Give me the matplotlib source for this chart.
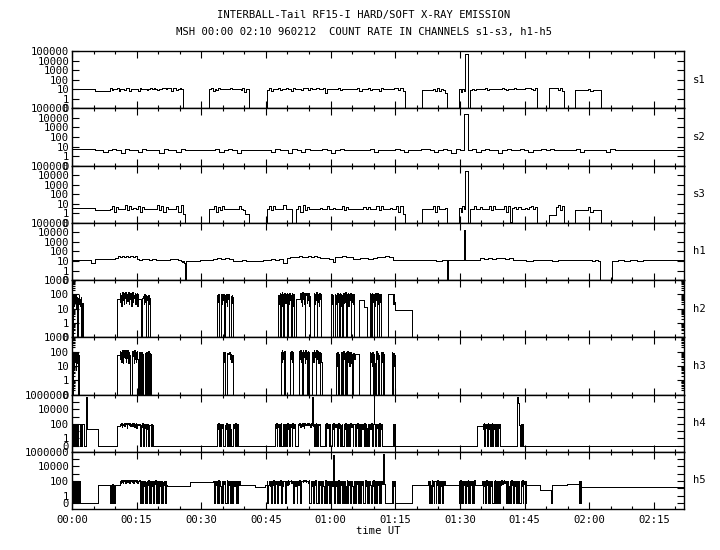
import numpy as np
import matplotlib.pyplot as plt
from matplotlib.ticker import FixedLocator, FixedFormatter, MultipleLocator, NullLocator, NullFormatter, LogLocator

plt.rcParams['font.family'] = ['DejaVu Sans Mono']
plt.rcParams['font.size'] = 7.6

# time in minutes after 00:00 UT; each segment = (start, end, count rates spread evenly)
# anything between segments is zero counts
T_END = 142.0

s1_segs = [
    (0.0, 5.3, [12]),
    (5.3, 8.8, [7]),
    (8.8, 25.8, [13, 8, 12, 12, 14, 6, 12, 12, 9, 13, 13, 7, 12, 10, 12, 12, 6, 13, 11, 12,
                 12, 8, 12, 13, 12, 13, 12, 9, 12, 12, 15, 15, 10, 14, 14, 6, 13, 14, 8, 12, 13, 10]),
    (31.9, 41.1, [10, 13, 6, 12, 8, 13, 11, 12, 11, 12, 12, 11, 13, 12, 12, 12, 12, 12, 9, 14, 5, 12, 12]),
    (45.2, 77.2, [9, 13, 7, 12, 12, 13, 8, 12, 12, 13, 12, 7, 13, 12, 12, 11, 8, 13, 14, 9,
                  14, 12, 12, 15, 12, 12, 13, 4, 12, 11, 12, 11, 12, 13, 8, 12, 12, 12, 12, 12,
                  11, 12, 13, 7, 12, 12, 12, 13, 8, 12, 12, 12, 7, 13, 12, 12, 12, 12, 12, 14,
                  13, 8, 14, 6]),
    (81.3, 87.0, [8, 8, 8, 8, 8, 12, 6, 13, 7, 10, 8, 4]),
    (89.8, 91.2, [10, 5, 12, 7]),
    (91.2, 91.8, [50000]),
    (92.3, 108.0, [8, 12, 9, 12, 11, 12, 12, 13, 9, 12, 11, 11, 12, 12, 11, 13, 12, 8, 12, 12,
                   12, 13, 12, 12, 12, 11, 13, 13, 14, 12, 9, 13]),
    (110.7, 114.1, [14, 14, 14, 14, 14, 8, 13, 6]),
    (116.8, 122.8, [8, 8, 8, 8, 8, 8, 12, 7, 8, 8, 8, 8]),
]

s2_segs = [
    (0.0, 5.3, [5.5]),
    (5.3, 91.0, [4, 4, 3, 4, 5, 4, 2, 5, 4, 4,
                 3, 5, 4, 4, 4, 2, 5, 4, 4, 3,
                 5, 4, 4, 4, 4, 4, 4, 4, 5, 3,
                 4, 5, 4, 2, 4, 4, 4, 4, 4, 4,
                 4, 3, 5, 4, 4, 2, 5, 4, 3, 5,
                 4, 4, 4, 5, 4, 2, 4, 5, 4, 4,
                 4, 4, 4, 4, 5, 3, 4, 4, 4, 4,
                 5, 4, 3, 4, 4, 4, 6, 6, 4, 3,
                 4, 5, 4, 2, 5, 4]),
    (91.0, 91.8, [23000]),
    (91.8, 142.0, [4, 5, 3, 4, 5, 4, 4, 2, 4, 5,
                   4, 4, 5, 4, 3, 4, 4, 5, 4, 6,
                   4, 4, 4, 4, 4, 5, 3, 4, 4, 4,
                   4, 4, 3, 5, 4, 4, 4, 4, 4, 4,
                   4, 4, 4, 4, 4, 4, 4, 4, 4, 4]),
]

s3_segs = [
    (0.0, 5.3, [4]),
    (5.3, 8.8, [2.5]),
    (8.8, 26.2, [3, 6, 1.5, 5, 3, 3, 3, 7, 2, 6, 3, 4, 3, 6, 1.5, 5, 3, 3, 3, 3,
                 3, 3, 7, 2, 6, 1.5, 5, 3, 3, 3, 3, 6, 1.5, 7, 0.8]),
    (31.9, 41.1, [3, 3, 6, 1.5, 5, 2, 6, 3, 3, 3, 3, 3, 3, 3, 6, 3, 2, 0.8, 0.8]),
    (45.2, 51.0, [3, 6, 2, 6, 3, 3, 3, 3, 7, 3, 3, 3]),
    (52.0, 77.2, [3, 6, 1.5, 7, 2, 5, 3, 3, 3, 3, 3, 4, 3, 3, 6, 3, 3, 4, 3, 3,
                  3, 6, 2, 5, 3, 3, 3, 3, 3, 3, 3, 5, 3, 5, 3, 3, 3, 6, 2, 6,
                  3, 3, 3, 4, 3, 3, 6, 1.5, 6, 0.8]),
    (81.3, 87.0, [3, 3, 3, 3, 3, 6, 1.5, 6, 3, 3, 3, 4]),
    (89.8, 91.2, [4, 1.5, 6, 3]),
    (91.2, 91.8, [28000]),
    (92.3, 108.0, [3, 3, 6, 3, 3, 5, 3, 3, 3, 6, 2, 6, 3, 3, 3, 3, 6, 1.5, 6, 0.12,
                   4, 5, 3, 5, 3, 3, 4, 3, 5, 6, 3, 5]),
    (110.7, 114.1, [0.65, 0.65, 0.65, 0.65, 5, 7, 2, 6]),
    (116.8, 122.8, [2, 2, 2, 2, 2, 2, 5, 1.5, 2, 2, 2, 2]),
]

h1_segs = [
    (0.0, 5.3, [12, 12, 12, 12, 12, 6]),
    (5.3, 9.9, [16]),
    (9.9, 10.7, [20]),
    (10.7, 15.0, [30, 26, 32, 28, 34, 27, 30, 25, 31]),
    (15.0, 19.6, [16, 14, 18, 15, 17, 13, 16, 15]),
    (19.6, 22.7, [12]),
    (22.7, 25.4, [16, 15, 13]),
    (25.4, 26.2, [10, 7, 11, 6]),
    (26.4, 29.7, [9]),
    (29.7, 32.8, [12]),
    (32.8, 37.4, [18, 20, 16, 19, 17]),
    (37.4, 44.4, [11, 10, 12, 10, 11, 10, 10]),
    (44.4, 49.0, [13, 14, 15, 14, 17]),
    (49.0, 49.8, [6]),
    (49.8, 57.5, [20, 24, 28, 26, 30, 25, 28, 32, 27, 30, 26]),
    (57.5, 60.6, [22, 20, 18]),
    (60.6, 61.0, [8]),
    (61.0, 65.3, [26, 28, 30, 27, 29]),
    (65.3, 66.8, [16]),
    (66.8, 70.7, [20, 22, 18, 21]),
    (70.7, 74.5, [28, 26, 30, 27]),
    (74.5, 80.7, [12]),
    (80.7, 87.0, [13, 12, 14, 11, 13]),
    (87.3, 90.9, [12]),
    (90.9, 91.2, [18000]),
    (91.2, 94.6, [13]),
    (94.6, 102.3, [20, 18, 22, 17, 21, 19, 16, 20]),
    (102.3, 108.5, [12, 14, 11, 13]),
    (108.5, 120.1, [12, 12, 11, 14, 12, 12, 13, 12]),
    (120.1, 122.6, [12, 9, 14, 11]),
    (125.2, 132.5, [11, 12, 10, 12, 11]),
    (132.5, 142.0, [12]),
]

h2_segs = [
    (0.3, 2.3, [60, 15, 80, 25, 90, 10, 70, 0, 60, 20, 85, 30, 50, 15, 70, 0]),
    (2.3, 2.6, [25]),
    (10.5, 11.1, [46]),
    (11.1, 15.4, [120, 30, 90, 15, 140, 40, 100, 20, 130, 60, 150, 25, 80, 110, 35, 140,
                  20, 95, 130, 45, 120, 15, 100, 140, 30, 90, 60, 135, 20, 110, 45, 125, 15, 100]),
    (15.4, 16.0, [46]),
    (16.2, 18.1, [60, 60, 60, 80, 20, 100, 30, 90, 0, 70, 40, 80, 0, 90, 20, 60]),
    (33.6, 34.0, [90, 30, 100]),
    (34.6, 35.4, [100, 20, 90, 40, 110, 0, 80]),
    (35.6, 36.5, [90, 30, 100, 15, 80, 50, 100, 20]),
    (36.8, 37.4, [80, 25, 90, 40, 70]),
    (47.9, 51.7, [90, 20, 120, 0, 100, 30, 140, 15, 110, 0, 80, 130, 25, 100, 60,
                  120, 0, 0, 110, 20, 130, 40, 90, 0, 120, 15, 100, 30, 110, 0]),
    (52.0, 52.9, [48]),
    (52.9, 55.2, [120, 30, 100, 15, 140, 50, 110, 20, 130, 0, 90, 120, 25, 110, 40, 130, 15, 80]),
    (56.1, 57.9, [130, 20, 100, 40, 140, 0, 110, 30, 90, 15, 120, 50, 100, 0]),
    (60.2, 60.6, [100, 20, 90]),
    (61.0, 65.4, [110, 20, 90, 0, 120, 30, 100, 0, 0, 130, 15, 110, 40, 90, 0, 120, 25, 100,
                  30, 140, 0, 0, 110, 20, 130, 15, 100, 40, 120, 0, 90, 30, 110, 20, 100]),
    (66.7, 67.7, [40]),
    (67.7, 68.5, [13]),
    (69.1, 71.8, [120, 20, 100, 0, 130, 30, 110, 0, 90, 15, 120, 40, 100, 0, 130, 20,
                  90, 0, 110, 30, 100, 0]),
    (73.4, 74.4, [105]),
    (74.4, 74.9, [90, 20, 110, 30]),
    (74.9, 78.8, [8]),
]

h3_segs = [
    (0.3, 1.7, [80, 10, 60, 20, 90, 5, 70, 15, 80, 0, 60, 30]),
    (10.5, 11.1, [55]),
    (11.1, 15.3, [110, 30, 90, 20, 130, 15, 100, 40, 120, 35, 110, 20, 140, 35, 90, 120, 15,
                  100, 60, 0, 0, 0, 0, 110, 50, 90, 15, 120, 30, 100, 20, 80, 110, 30]),
    (15.6, 16.6, [90, 0, 80, 0, 100, 0, 70, 0]),
    (17.0, 18.3, [80, 100, 0, 90, 0, 110, 0, 80, 0, 70]),
    (35.0, 35.6, [100, 20, 90, 0]),
    (36.0, 37.3, [80, 70, 70, 90, 30, 70, 20, 60]),
    (48.4, 49.5, [100, 20, 120, 30, 90, 0, 110, 40]),
    (50.5, 51.4, [90, 30, 110, 20, 100, 0]),
    (52.7, 55.2, [110, 30, 130, 20, 100, 0, 120, 40, 90, 15, 140, 30, 100, 0, 110, 20, 90, 0]),
    (55.8, 57.9, [100, 20, 120, 40, 90, 0, 130, 30, 110, 15, 100, 0, 80, 20]),
    (61.2, 61.9, [80, 10, 90, 0, 70]),
    (62.3, 63.3, [100, 20, 90, 0, 110, 30, 80]),
    (63.6, 64.5, [90, 0, 110, 20, 100, 10]),
    (64.5, 65.6, [90, 15, 70, 0, 80, 30]),
    (65.6, 66.6, [66]),
    (69.1, 70.3, [100, 20, 80, 10, 90, 0, 70, 15]),
    (70.6, 71.3, [110, 30, 80, 0, 60]),
    (71.6, 72.4, [90, 20, 100, 0, 70]),
    (74.2, 74.9, [100, 0, 80, 10, 60]),
]

h4_segs = [
    (0.1, 2.8, [100, 0, 90, 0, 100, 100, 0, 80, 100, 0, 100, 90, 100, 0, 100, 100, 0, 90, 100, 100]),
    (3.25, 3.45, [400000]),
    (3.45, 6.1, [21]),
    (10.5, 11.1, [55]),
    (11.1, 15.2, [100, 60, 130, 40, 110, 80, 140, 50, 120, 90, 130, 30, 100, 120, 60, 140,
                  45, 110, 80, 130, 50, 120, 90, 40, 110, 130, 30, 100]),
    (15.2, 15.6, [60]),
    (15.6, 18.9, [100, 0, 80, 40, 120, 0, 90, 30, 110, 0, 100, 20, 90, 0, 80, 60, 0, 100, 0, 70]),
    (33.6, 38.6, [100, 20, 120, 0, 90, 0, 110, 30, 100, 0, 0, 80, 20, 120, 0, 90, 100, 0,
                  110, 20, 0, 0, 100, 30, 90, 0, 120, 0, 100, 0]),
    (47.1, 49.8, [100, 30, 120, 0, 90, 40, 110, 0, 100, 20, 130, 0, 0, 90, 30, 110, 0, 80, 100, 0]),
    (49.9, 52.1, [120, 20, 100, 0, 110, 40, 90, 0, 130, 30, 100, 0, 0, 0]),
    (52.5, 57.5, [100, 60, 130, 40, 110, 90, 140, 50, 120, 30, 100, 130, 60, 110, 80, 130,
                  90, 60, 120, 90, 100, 40, 130, 70, 500000, 50, 100, 0, 90, 20, 120, 0,
                  100, 0, 110, 60, 100]),
    (58.7, 66.8, [100, 0, 120, 30, 90, 0, 110, 0, 0, 100, 20, 130, 0, 90, 40, 110, 0, 0,
                  120, 30, 100, 0, 80, 110, 0, 0, 100, 20, 130, 0, 90, 0, 110, 0, 0, 120,
                  40, 100, 0, 90, 110, 0, 100, 30, 120, 0, 90, 0]),
    (66.8, 72.2, [100, 0, 110, 20, 90, 0, 120, 0, 100, 30, 0, 110, 0, 100, 20, 120, 0, 0,
                  90, 400000, 100, 0, 110, 30, 100, 0, 120, 0, 90, 20, 100, 0]),
    (74.5, 74.9, [100, 0, 90]),
    (94.0, 95.3, [55]),
    (95.3, 99.3, [100, 20, 120, 0, 90, 110, 30, 100, 0, 130, 20, 100, 0, 0, 110, 40, 120,
                  0, 100, 20, 90, 0, 110, 0, 100, 0, 0, 90, 30, 110]),
    (103.3, 103.7, [500000, 80000]),
    (103.7, 104.7, [100, 60, 0, 100, 20, 90, 0, 100]),
]

h5_segs = [
    (0.1, 1.9, [110, 0, 100, 0, 90, 20, 110, 0, 80, 100, 0, 0, 90, 0]),
    (6.1, 8.8, [29]),
    (8.8, 10.0, [30, 0, 30, 0, 40, 0, 30, 10, 0, 30]),
    (10.0, 11.1, [30]),
    (11.1, 15.8, [100, 60, 140, 80, 120, 50, 150, 90, 110, 130, 60, 140, 100, 70, 130, 90,
                  150, 60, 120, 100, 140, 80, 110, 130, 50, 120, 90, 140, 70, 100, 130, 60,
                  110, 90, 120, 60]),
    (16.1, 22.0, [100, 0, 90, 20, 110, 0, 80, 0, 0, 100, 30, 120, 0, 90, 0, 110, 20, 100,
                  0, 0, 90, 40, 120, 0, 100, 0, 110, 0, 90, 20, 100, 0, 110, 0, 80, 30,
                  100, 0, 90, 30]),
    (22.0, 27.4, [18]),
    (27.4, 32.8, [80]),
    (32.8, 39.0, [100, 0, 110, 30, 90, 0, 120, 0, 100, 20, 0, 110, 0, 90, 40, 100, 0, 0,
                  120, 0, 100, 30, 90, 0, 110, 0, 0, 100, 20, 110, 0, 90, 0, 100, 30, 100]),
    (39.0, 42.4, [30]),
    (42.4, 44.8, [15]),
    (44.8, 60.5, [30, 30, 100, 0, 30, 110, 20, 90, 0, 100, 30, 120, 0, 90, 40, 110, 0, 100,
                  80, 30, 120, 0, 100, 20, 90, 110, 0, 0, 100, 30, 120, 40, 110, 90, 130,
                  60, 100, 0, 0, 110, 20, 90, 0, 100, 30, 120, 0, 0, 100, 110, 80, 120, 90,
                  130, 70, 110, 100, 60, 120, 0, 0, 90, 20, 110, 0, 100, 30, 120, 0, 0, 100,
                  0, 90, 30, 110, 0, 100, 20, 0, 0, 120, 0, 100, 30, 90, 0, 110, 0, 100, 20]),
    (60.5, 60.7, [400000]),
    (60.7, 66.8, [100, 0, 90, 20, 110, 0, 120, 0, 0, 100, 30, 90, 0, 110, 0, 100, 20, 0,
                  120, 0, 90, 30, 100, 0, 110, 20, 0, 0, 100, 0, 90, 40, 110, 0, 100, 0]),
    (66.8, 72.1, [100, 0, 110, 30, 90, 0, 0, 120, 20, 100, 0, 110, 0, 90, 30, 0, 0, 100,
                  20, 120, 0, 90, 100, 0, 110, 30, 100, 0, 90, 0, 110, 40]),
    (72.1, 72.3, [500000]),
    (72.3, 72.6, [40]),
    (74.2, 74.9, [100, 0, 90, 20, 110]),
    (78.8, 82.7, [30]),
    (82.7, 86.6, [100, 0, 110, 30, 0, 120, 20, 100, 0, 90, 110, 0, 100, 30, 120, 0, 90, 0,
                  100, 20, 110, 0, 0, 100, 30, 90]),
    (86.6, 89.7, [30]),
    (89.7, 93.6, [100, 0, 120, 20, 0, 110, 0, 100, 30, 90, 0, 0, 110, 20, 120, 0, 100, 0,
                  90, 30, 110, 0, 100, 0, 120, 30]),
    (93.6, 95.1, [30]),
    (95.1, 105.6, [100, 0, 110, 20, 90, 0, 0, 120, 30, 100, 0, 110, 0, 90, 20, 100, 0, 0,
                   110, 30, 120, 0, 100, 20, 0, 90, 110, 0, 100, 30, 120, 40, 110, 90, 130,
                   60, 100, 0, 90, 0, 110, 20, 0, 100, 0, 120, 30, 90, 0, 0, 110, 20, 100,
                   0, 90, 0, 110, 30, 0, 0, 100, 20, 120, 0, 90, 40, 110, 0, 100, 30]),
    (105.6, 108.7, [30]),
    (108.7, 111.2, [6.5]),
    (111.3, 114.8, [25]),
    (114.8, 117.6, [35]),
    (117.6, 118.2, [100, 0, 90, 0, 80, 0, 100]),
    (118.2, 142.0, [17]),
]

channels = ['s1', 's2', 's3', 'h1', 'h2', 'h3', 'h4', 'h5']
all_segs = [s1_segs, s2_segs, s3_segs, h1_segs, h2_segs, h3_segs, h4_segs, h5_segs]

xtick_min = [0, 15, 30, 45, 60, 75, 90, 105, 120, 135]
xtick_lab = ['00:00', '00:15', '00:30', '00:45', '01:00', '01:15', '01:30', '01:45', '02:00', '02:15']

ticks_s = [0.1, 1, 10, 100, 1000, 10000, 100000]
labs_s = ['0', '1', '10', '100', '1000', '10000', '100000']
ticks_h23 = [0.1, 1, 10, 100, 1000]
labs_h23 = ['0', '1', '10', '100', '1000']
ticks_h45 = [0.1, 1, 10, 100, 1000, 10000, 100000, 1000000]
labs_h45 = ['0', '1', '', '100', '', '10000', '', '1000000']


def steps(segs):
    t, v = [], []
    last = 0.0
    for t0, t1, vals in segs:
        if t0 > last + 1e-9:
            t.append(last)
            v.append(0)
        tt = np.linspace(t0, t1, len(vals) + 1)[:-1]
        t.extend(tt)
        v.extend(vals)
        last = t1
    if last < T_END:
        t.append(last)
        v.append(0)
    t.append(T_END)
    v.append(v[-1])
    v = np.array(v, dtype=float)
    # zero counts are drawn on the "0" line (0.1)
    return np.array(t), np.where(v > 0, v, 0.1)


fig, axs = plt.subplots(8, 1, figsize=(7.2, 5.5), dpi=100, sharex=True)
fig.subplots_adjust(left=0.1, right=0.95, top=0.907, bottom=0.0745, hspace=0)

for i, ax in enumerate(axs):
    t, v = steps(all_segs[i])
    ax.step(t, v, where='post', color='black', lw=0.7, antialiased=False)
    ax.set_yscale('log')
    name = channels[i]
    if i < 4:
        ax.set_ylim(0.1, 1e5)
        ax.yaxis.set_major_locator(FixedLocator(ticks_s))
        ax.yaxis.set_major_formatter(FixedFormatter(labs_s))
        ax.yaxis.set_minor_locator(LogLocator(base=10, subs=np.arange(2, 10)))
    elif i < 6:
        ax.set_ylim(0.1, 1000)
        ax.yaxis.set_major_locator(FixedLocator(ticks_h23))
        ax.yaxis.set_major_formatter(FixedFormatter(labs_h23))
        ax.yaxis.set_minor_locator(LogLocator(base=10, subs=np.arange(2, 10)))
    else:
        ax.set_ylim(0.015, 1e6)
        ax.yaxis.set_major_locator(FixedLocator(ticks_h45))
        ax.yaxis.set_major_formatter(FixedFormatter(labs_h45))
        ax.yaxis.set_minor_locator(NullLocator())
    ax.yaxis.set_minor_formatter(NullFormatter())
    ax.set_xlim(0, T_END)
    ax.xaxis.set_major_locator(FixedLocator(xtick_min))
    ax.xaxis.set_minor_locator(MultipleLocator(5))
    ax.tick_params(which='both', direction='in', top=True, right=True, width=0.8, pad=2)
    ax.tick_params(which='major', length=5)
    ax.tick_params(which='minor', length=2.5)
    for sp in ax.spines.values():
        sp.set_linewidth(1.0)
    ax.text(1.015, 0.5, name, transform=ax.transAxes, ha='left', va='center')

axs[-1].set_xticklabels(xtick_lab)
axs[-1].tick_params(axis='x', pad=4)
axs[-1].set_xlabel('time UT', labelpad=1)

fig.text(0.505, 0.972, 'INTERBALL-Tail RF15-I HARD/SOFT X-RAY EMISSION', ha='center', va='center')
fig.text(0.505, 0.941, 'MSH 00:00 02:10 960212  COUNT RATE IN CHANNELS s1-s3, h1-h5',
         ha='center', va='center')

fig.savefig('out.png', dpi=100)
